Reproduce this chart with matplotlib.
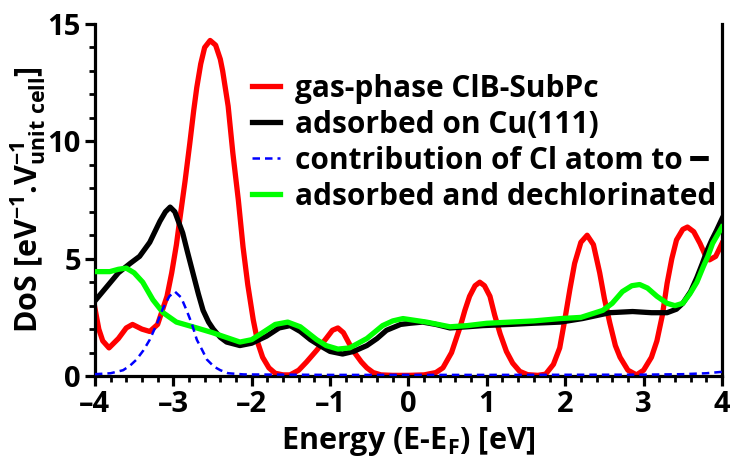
import numpy as np
import matplotlib
matplotlib.use("Agg")
import matplotlib.pyplot as plt
from matplotlib.ticker import MultipleLocator

# gas-phase ClB-SubPc (red)
x_gas = [-4.0, -3.95, -3.9, -3.82, -3.7, -3.6, -3.52, -3.4, -3.3, -3.2, -3.15, -3.08, -3.02,
         -2.96, -2.92, -2.85, -2.79, -2.74, -2.7, -2.65, -2.6, -2.53, -2.46, -2.4, -2.37, -2.3,
         -2.24, -2.17, -2.11, -2.05, -1.98, -1.92, -1.86, -1.78, -1.7, -1.6, -1.51, -1.4, -1.3,
         -1.17, -1.05, -0.97, -0.9, -0.83, -0.71, -0.6, -0.53, -0.45, -0.35, -0.2, 0.0, 0.2,
         0.35, 0.44, 0.55, 0.66, 0.72, 0.78, 0.85, 0.91, 0.97, 1.04, 1.1, 1.17, 1.25, 1.33,
         1.42, 1.52, 1.65, 1.75, 1.85, 1.93, 2.0, 2.06, 2.12, 2.2, 2.28, 2.36, 2.44, 2.5, 2.57,
         2.64, 2.7, 2.8, 2.91, 3.0, 3.1, 3.17, 3.24, 3.3, 3.36, 3.42, 3.5, 3.56, 3.64, 3.72,
         3.78, 3.84, 3.92, 4.0]
y_gas = [2.9, 2.0, 1.5, 1.2, 1.6, 2.05, 2.2, 2.0, 1.9, 2.2, 2.7, 3.4, 4.4,
         5.6, 6.6, 8.3, 9.9, 11.3, 12.3, 13.3, 14.0, 14.3, 14.1, 13.5, 13.0, 11.5,
         9.5, 7.5, 5.5, 3.9, 2.4, 1.4, 0.8, 0.35, 0.12, 0.05, 0.05, 0.25, 0.6,
         1.1, 1.6, 1.95, 2.05, 1.85, 1.1, 0.6, 0.35, 0.15, 0.05, 0.03, 0.03, 0.05,
         0.15, 0.35, 1.0, 2.1, 2.8, 3.4, 3.85, 4.0, 3.85, 3.4, 2.6, 1.8, 1.05, 0.55,
         0.2, 0.06, 0.03, 0.08, 0.5, 1.2, 2.5, 3.7, 4.8, 5.7, 6.0, 5.6, 4.4, 3.3, 2.25,
         1.3, 0.8, 0.25, 0.05, 0.25, 0.8, 1.5, 2.6, 3.95, 5.0, 5.8, 6.25, 6.35, 6.15, 5.65,
         5.2, 4.95, 5.1, 5.65]

# adsorbed on Cu(111) (black)
x_ads = [-4.0, -3.85, -3.7, -3.55, -3.43, -3.3, -3.17, -3.1, -3.04, -2.98, -2.88, -2.82, -2.75,
         -2.68, -2.62, -2.55, -2.49, -2.4, -2.32, -2.15, -2.0, -1.81, -1.65, -1.51, -1.38,
         -1.25, -1.13, -1.0, -0.84, -0.7, -0.53, -0.4, -0.28, -0.1, 0.02, 0.18, 0.35, 0.53,
         0.75, 0.95, 1.3, 1.59, 1.94, 2.22, 2.57, 2.86, 3.1, 3.3, 3.42, 3.5, 3.6, 3.68, 3.75,
         3.81, 3.87, 3.93, 4.0]
y_ads = [3.2, 3.8, 4.4, 4.8, 5.1, 5.7, 6.6, 7.0, 7.2, 7.0, 6.1, 5.3, 4.4,
         3.5, 2.8, 2.3, 2.0, 1.65, 1.45, 1.3, 1.4, 1.7, 2.05, 2.15, 1.9,
         1.55, 1.3, 1.05, 0.94, 1.05, 1.3, 1.6, 1.95, 2.2, 2.25, 2.3, 2.2, 2.05,
         2.1, 2.15, 2.2, 2.25, 2.3, 2.45, 2.7, 2.75, 2.7, 2.7, 2.85, 3.1, 3.6, 4.2, 4.8,
         5.35, 5.8, 6.2, 6.7]

# contribution of Cl atom (blue dashed)
x_cl = [-4.0, -3.8, -3.64, -3.55, -3.47, -3.38, -3.3, -3.2, -3.13, -3.05, -2.98, -2.9, -2.83,
        -2.76, -2.7, -2.63, -2.57, -2.48, -2.4, -2.3, -2.1, -1.0, 1.0, 3.0, 3.5, 3.8, 4.0]
y_cl = [0.08, 0.12, 0.25, 0.45, 0.7, 1.1, 1.55, 2.3, 2.9, 3.4, 3.6, 3.35, 2.8,
        2.2, 1.55, 1.1, 0.7, 0.4, 0.25, 0.12, 0.07, 0.05, 0.05, 0.06, 0.08, 0.12, 0.18]

# adsorbed and dechlorinated (green)
x_dec = [-4.0, -3.81, -3.7, -3.6, -3.5, -3.39, -3.26, -3.13, -2.96, -2.7, -2.5, -2.37, -2.15,
         -2.0, -1.86, -1.7, -1.54, -1.38, -1.17, -1.05, -0.9, -0.75, -0.53, -0.33, -0.2,
         -0.07, 0.23, 0.53, 0.75, 1.0, 1.6, 1.94, 2.2, 2.48, 2.6, 2.73, 2.85, 2.95, 3.05,
         3.17, 3.3, 3.4, 3.5, 3.59, 3.68, 3.76, 3.82, 3.88, 3.94, 4.0]
y_dec = [4.45, 4.45, 4.55, 4.6, 4.4, 4.0, 3.25, 2.7, 2.3, 2.05, 1.85, 1.7, 1.45,
         1.55, 1.85, 2.2, 2.3, 2.1, 1.55, 1.3, 1.15, 1.2, 1.6, 2.15, 2.35,
         2.45, 2.3, 2.1, 2.15, 2.25, 2.35, 2.45, 2.5, 2.8, 3.1, 3.6, 3.85, 3.9, 3.75,
         3.4, 3.1, 3.0, 3.1, 3.5, 4.0, 4.65, 5.1, 5.65, 6.0, 6.35]

labels = ['gas-phase ClB-SubPc', 'adsorbed on Cu(111)',
          'contribution of Cl atom to \u2501', 'adsorbed and dechlorinated']

FONT = 'Open Sans'
plt.rcParams['font.family'] = [FONT, 'DejaVu Sans']
plt.rcParams['font.weight'] = 'bold'
plt.rcParams['mathtext.fontset'] = 'custom'
plt.rcParams['mathtext.rm'] = FONT + ':bold'
plt.rcParams['mathtext.bf'] = FONT + ':bold'
plt.rcParams['mathtext.it'] = FONT + ':bold'
plt.rcParams['mathtext.default'] = 'rm'


def main():
    fig = plt.figure(figsize=(7.3, 4.62), dpi=100)
    ax = fig.add_axes([0.130, 0.186, 0.859, 0.762])

    ax.plot(x_gas, y_gas, color='#ff0000', lw=3.8, label=labels[0], zorder=2)
    ax.plot(x_ads, y_ads, color='black', lw=3.8, label=labels[1], zorder=3)
    ax.plot(x_cl, y_cl, color='#0000ff', lw=1.8, ls=(0, (3, 2)), label=labels[2], zorder=5)
    ax.plot(x_dec, y_dec, color='#00ff00', lw=3.8, label=labels[3], zorder=4)

    ax.set_xlim(-4, 4)
    ax.set_ylim(0, 15)
    ax.xaxis.set_major_locator(MultipleLocator(1))
    ax.xaxis.set_minor_locator(MultipleLocator(0.2))
    ax.yaxis.set_major_locator(MultipleLocator(5))
    ax.yaxis.set_minor_locator(MultipleLocator(1))
    ax.xaxis.set_major_formatter(plt.FuncFormatter(lambda v, p: f'{v:.0f}'.replace('-', '\u2013')))

    for s in ['left', 'bottom', 'right']:
        ax.spines[s].set_linewidth(2.3)
    ax.spines['top'].set_visible(False)
    ax.tick_params(which='major', direction='out', length=7, width=2.3, labelsize=21, pad=3)
    ax.tick_params(which='minor', direction='out', length=4, width=2.0)

    ax.set_xlabel('Energy (E-E$_F$) [eV]', fontsize=22, fontweight='bold', labelpad=4)
    ax.set_ylabel('DoS [eV$^{-1}$.V$_{unit\\ cell}^{-1}$]', fontsize=22, fontweight='bold', labelpad=0)

    leg = ax.legend(loc='upper left', bbox_to_anchor=(0.345, 0.84), bbox_transform=fig.transFigure,
                    frameon=False, fontsize=21.5, handlelength=0.95, handletextpad=0.5,
                    labelspacing=0.2, borderpad=0, borderaxespad=0)
    for t in leg.get_texts():
        t.set_fontweight('bold')

    fig.savefig('out.png', dpi=100)


if __name__ == "__main__":
    main()
